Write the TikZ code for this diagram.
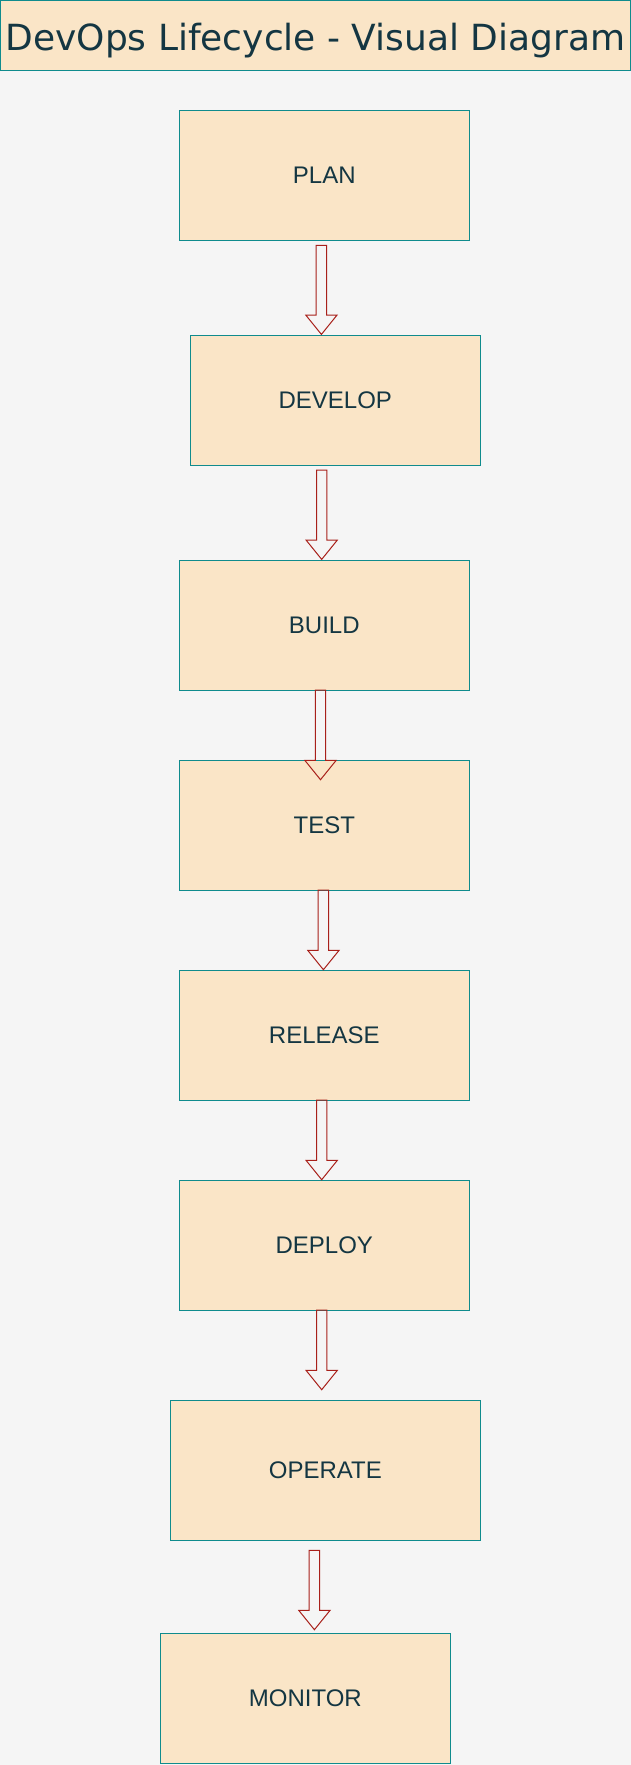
\documentclass[tikz,border=0pt]{standalone}
\usepackage{fontspec}
\setmainfont{Liberation Sans}
\newfontfamily\titlefont{DejaVu Sans}
\usepackage{tikz}
\usetikzlibrary{positioning}
\usetikzlibrary{calc}

\definecolor{stagefill}{HTML}{FAE5C7}
\definecolor{stageline}{HTML}{0F8B8D}
\definecolor{stagetext}{HTML}{143642}
\definecolor{arrowline}{HTML}{A8201A}
\definecolor{canvas}{HTML}{F5F5F5}

% hollow block arrow: #1 top of the shaft, #2 tip
\newcommand{\flowarrow}[2]{%
  \draw[flowline] let \p1=#1, \p2=#2 in
    (\x1-5.2pt,\y1) -- (\x1-5.2pt,\y2+19.3pt) -- (\x1-15.6pt,\y2+19.3pt) -- (\x1,\y2)
    -- (\x1+15.6pt,\y2+19.3pt) -- (\x1+5.2pt,\y2+19.3pt) -- (\x1+5.2pt,\y1) -- cycle;}

\begin{document}
\begin{tikzpicture}
        [x=1pt,y=1pt,
         stage/.style={rectangle,draw=stageline,fill=stagefill,line width=1pt,
           minimum width=290pt,minimum height=130pt,inner sep=0pt,outer sep=0pt,
           text=stagetext,font=\fontsize{24}{28}\selectfont},
         flowline/.style={draw=arrowline,line width=1pt,line join=miter}]
      \fill[canvas] (0,0) rectangle (631,-1765);
      \useasboundingbox (0,0) rectangle (631,-1765);

      \node[stage,anchor=north west,minimum width=630pt,minimum height=70pt,
            text height=29pt,text depth=0pt,font=\titlefont\fontsize{36}{40}\selectfont]
            (title) at (0.5,-0.5) {DevOps Lifecycle - Visual Diagram};

      \node[stage]  (plan)    at (324.3,-175) {PLAN};
      \node[stage]  (develop) [below=95pt of plan, xshift=11pt] {DEVELOP};
      \node[stage]  (build)   [below=95pt of develop, xshift=-11pt] {BUILD};
      \node[stage]  (test)    [below=70pt of build] {TEST};
      \node[stage]  (release) [below=80pt of test] {RELEASE};
      \node[stage]  (deploy)  [below=80pt of release] {DEPLOY};
      \node[stage,minimum width=310pt,minimum height=140pt]
                    (operate) [below=90pt of deploy, xshift=1pt] {OPERATE};
      \node[stage]  (monitor) [below=93.4pt of operate, xshift=-20pt] {MONITOR};

      \flowarrow{([xshift=-2.9pt,yshift=-5.4pt]plan.south)}{([yshift=0.6pt]develop.north)}
      \flowarrow{([xshift=-13.6pt,yshift=-5pt]develop.south)}{([yshift=0.6pt]build.north)}
      \flowarrow{([xshift=-3.8pt]build.south)}{([yshift=-19.7pt]test.north)}
      \flowarrow{([xshift=-0.9pt]test.south)}{([yshift=0.3pt]release.north)}
      \flowarrow{([xshift=-2.6pt]release.south)}{([yshift=0.3pt]deploy.north)}
      \flowarrow{([xshift=-2.6pt]deploy.south)}{([yshift=10.3pt]operate.north)}
      \flowarrow{([xshift=-10.9pt,yshift=-10.4pt]operate.south)}{([yshift=3.7pt]monitor.north)}
\end{tikzpicture}
\end{document}
